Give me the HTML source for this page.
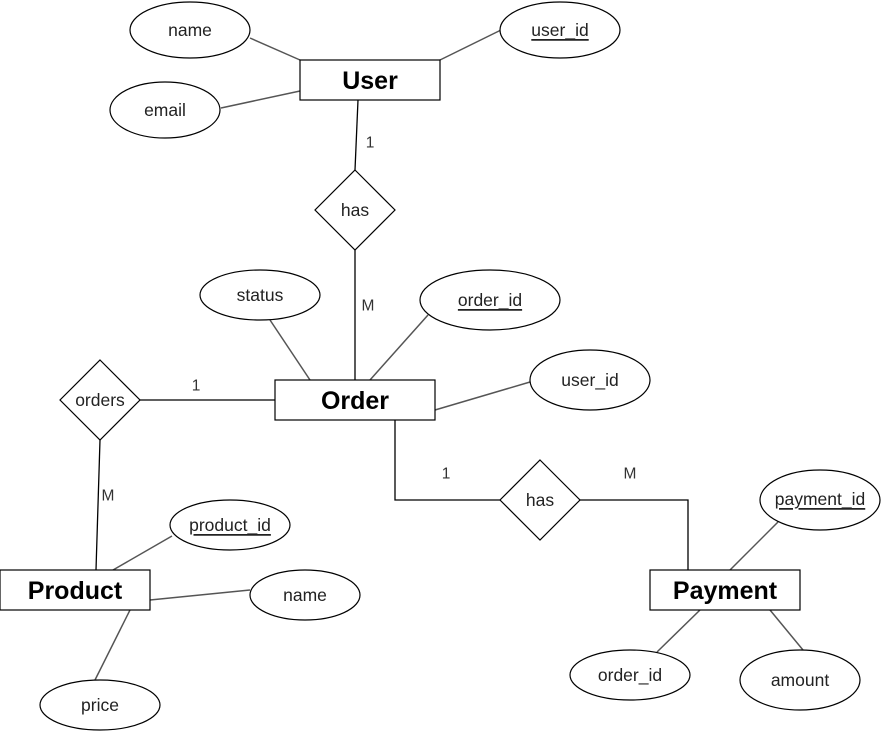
<!DOCTYPE html>
<html><head><meta charset="utf-8"><style>
html,body{margin:0;padding:0;background:#fff;}
svg{display:block;}
text{font-family:"Liberation Sans",Arial,sans-serif;fill:#222;}
.a{font-size:17.5px;text-anchor:middle;dominant-baseline:central;}
.e{font-size:25px;font-weight:bold;text-anchor:middle;dominant-baseline:central;fill:#000;}
.l{font-size:15.5px;text-anchor:middle;dominant-baseline:central;fill:#333;}
.g{stroke:#555;stroke-width:1.5;fill:none;}
.k{stroke:#000;stroke-width:1.3;fill:none;}
ellipse,rect,polygon{fill:#fff;stroke:#000;stroke-width:1.2;}
</style></head><body>
<svg width="881" height="731" viewBox="0 0 881 731" xmlns="http://www.w3.org/2000/svg">
<line class="g" x1="250" y1="38" x2="300" y2="60"/>
<line class="g" x1="501" y1="30" x2="440" y2="60"/>
<line class="g" x1="221" y1="108" x2="300" y2="91"/>
<line class="g" x1="270" y1="320" x2="310" y2="380"/>
<line class="g" x1="428" y1="315" x2="370" y2="380"/>
<line class="g" x1="435" y1="410" x2="530" y2="382"/>
<line class="g" x1="113" y1="570" x2="172" y2="536"/>
<line class="g" x1="150" y1="600" x2="250" y2="590"/>
<line class="g" x1="130" y1="610" x2="95" y2="680"/>
<line class="g" x1="778" y1="522" x2="730" y2="570"/>
<line class="g" x1="700" y1="610" x2="657" y2="652"/>
<line class="g" x1="770" y1="610" x2="803" y2="650"/>
<line class="k" x1="358" y1="100" x2="355" y2="170"/>
<line class="k" x1="355" y1="250" x2="355" y2="380"/>
<line class="k" x1="140" y1="400" x2="275" y2="400"/>
<line class="k" x1="100" y1="440" x2="96" y2="570"/>
<polyline class="k" points="395,420 395,500 500,500"/>
<polyline class="k" points="580,500 688,500 688,570"/>
<ellipse cx="190" cy="30" rx="60" ry="28"/><text class="a" x="190" y="30">name</text>
<ellipse cx="560" cy="30" rx="60" ry="28"/><text class="a" x="560" y="30" text-decoration="underline">user_id</text>
<ellipse cx="165" cy="110" rx="55" ry="28"/><text class="a" x="165" y="110">email</text>
<ellipse cx="260" cy="295" rx="60" ry="25"/><text class="a" x="260" y="295">status</text>
<ellipse cx="490" cy="300" rx="70" ry="30"/><text class="a" x="490" y="300" text-decoration="underline">order_id</text>
<ellipse cx="590" cy="380" rx="60" ry="30"/><text class="a" x="590" y="380">user_id</text>
<ellipse cx="230" cy="525" rx="60" ry="25"/><text class="a" x="230" y="525" text-decoration="underline">product_id</text>
<ellipse cx="305" cy="595" rx="55" ry="25"/><text class="a" x="305" y="595">name</text>
<ellipse cx="100" cy="705" rx="60" ry="25"/><text class="a" x="100" y="705">price</text>
<ellipse cx="820" cy="500" rx="60" ry="30"/><text class="a" x="820" y="499" text-decoration="underline">payment_id</text>
<ellipse cx="630" cy="675" rx="60" ry="25"/><text class="a" x="630" y="675">order_id</text>
<ellipse cx="800" cy="680" rx="60" ry="30"/><text class="a" x="800" y="680">amount</text>
<rect x="300" y="60" width="140" height="40"/><text class="e" x="370" y="81">User</text>
<rect x="275" y="380" width="160" height="40"/><text class="e" x="355" y="401">Order</text>
<rect x="0" y="570" width="150" height="40"/><text class="e" x="75" y="591">Product</text>
<rect x="650" y="570" width="150" height="40"/><text class="e" x="725" y="591">Payment</text>
<polygon points="355,170 395,210 355,250 315,210"/><text class="a" x="355" y="210">has</text>
<polygon points="100,360 140,400 100,440 60,400"/><text class="a" x="100" y="400">orders</text>
<polygon points="540,460 580,500 540,540 500,500"/><text class="a" x="540" y="500">has</text>
<text class="l" x="370" y="143">1</text>
<text class="l" x="368" y="306">M</text>
<text class="l" x="196" y="386">1</text>
<text class="l" x="108" y="496">M</text>
<text class="l" x="446" y="474">1</text>
<text class="l" x="630" y="474">M</text>
</svg>
</body></html>
